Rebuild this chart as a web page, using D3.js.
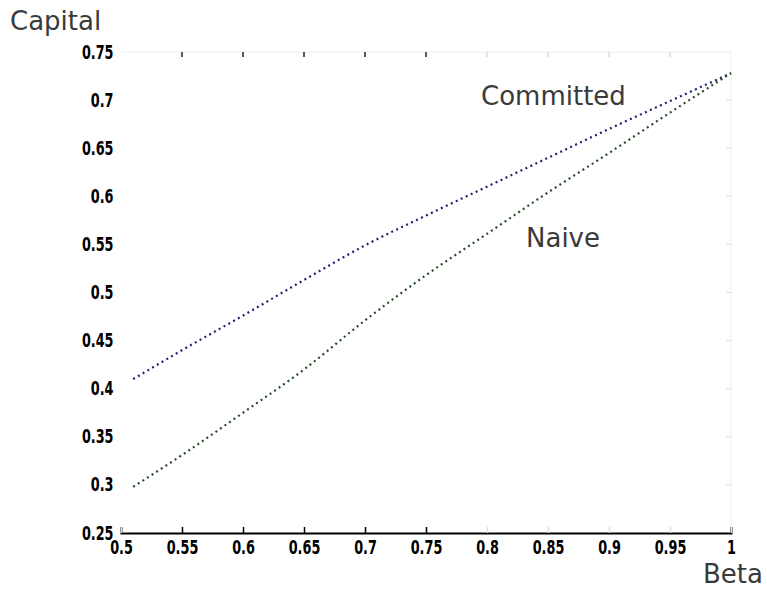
<!DOCTYPE html>
<html>
<head>
<meta charset="utf-8">
<script src="https://cdn.jsdelivr.net/npm/d3@7"></script>
<style>
  body { margin: 0; background: #fff; }
  .tick text { font-family: "DejaVu Sans Condensed", "DejaVu Sans", sans-serif; font-weight: bold; font-size: 19px; fill: #000; }
  .lbl { font-family: "DejaVu Sans", sans-serif; font-size: 26px; fill: #3a3a3a; }
</style>
</head>
<body>
<div id="chart"></div>
<script>
// Beta values and capital for both curves
const beta = [0.51, 0.55, 0.6, 0.65, 0.7, 0.75, 0.8, 0.85, 0.9, 0.95, 1.0];
const committed = [0.410, 0.440, 0.476, 0.513, 0.549, 0.580, 0.610, 0.640, 0.670, 0.699, 0.728];
const naive = [0.298, 0.331, 0.375, 0.420, 0.471, 0.518, 0.561, 0.604, 0.645, 0.687, 0.728];
const xTicks = [0.5, 0.55, 0.6, 0.65, 0.7, 0.75, 0.8, 0.85, 0.9, 0.95, 1];
const yTicks = [0.25, 0.3, 0.35, 0.4, 0.45, 0.5, 0.55, 0.6, 0.65, 0.7, 0.75];

const W = 767, H = 593;
const margin = {top: 52, right: 36, bottom: 60, left: 121};
const width = W - margin.left - margin.right;
const height = H - margin.top - margin.bottom;

const svg = d3.select("#chart").append("svg")
    .attr("width", W)
    .attr("height", H);

const g = svg.append("g")
    .attr("transform", `translate(${margin.left},${margin.top})`);

const x = d3.scaleLinear().domain([0.5, 1]).range([0, width]);
const y = d3.scaleLinear().domain([0.25, 0.75]).range([height, 0]);

// faint top and right frame
g.append("line")
    .attr("x1", 0).attr("x2", width).attr("y1", 0).attr("y2", 0)
    .attr("stroke", "#ececec");
g.append("line")
    .attr("x1", width).attr("x2", width).attr("y1", 0).attr("y2", height)
    .attr("stroke", "#efefef");

// top ticks
g.selectAll(".ttick")
  .data(xTicks.slice(1, -1))
  .enter().append("line")
    .attr("x1", d => x(d)).attr("x2", d => x(d))
    .attr("y1", 0).attr("y2", 5)
    .attr("stroke", (d, i) => i < 5 ? "#222" : "#ddd")
    .attr("stroke-width", 1.5);

// right ticks
g.selectAll(".rtick")
  .data(yTicks.slice(1, -1))
  .enter().append("line")
    .attr("x1", width - 5).attr("x2", width)
    .attr("y1", d => y(d)).attr("y2", d => y(d))
    .attr("stroke", "#ddd");

// bottom axis
const xAxis = g.append("g")
    .attr("transform", `translate(0,${height})`)
    .call(d3.axisBottom(x).tickValues(xTicks).tickSize(-6).tickPadding(8)
        .tickFormat(d => d3.format("")(d)));
xAxis.select(".domain").attr("stroke", "#000").attr("stroke-width", 2);
xAxis.selectAll(".tick line")
    .attr("stroke", (d, i) => (i > 0 && i < 6) ? "#000" : "#ddd")
    .attr("stroke-width", 1.5);
xAxis.selectAll(".tick text")
    .attr("transform", "scale(0.75,1)");

// left axis (labels only)
const yAxis = g.append("g")
    .call(d3.axisLeft(y).tickValues(yTicks).tickSize(0).tickPadding(10)
        .tickFormat(d => d3.format("")(d)));
yAxis.select(".domain").remove();
yAxis.selectAll(".tick text")
    .attr("transform", "scale(0.75,1)");

// curves
const line = d3.line()
    .x((d, i) => x(beta[i]))
    .y(d => y(d))
    .curve(d3.curveMonotoneX);

g.append("path")
    .datum(committed)
    .attr("fill", "none")
    .attr("stroke", "#22226e")
    .attr("stroke-width", 2.2)
    .attr("stroke-dasharray", "2,3.5")
    .attr("d", line);

g.append("path")
    .datum(naive)
    .attr("fill", "none")
    .attr("stroke", "#284d28")
    .attr("stroke-width", 2.2)
    .attr("stroke-dasharray", "2,3.5")
    .attr("d", line);

// labels
svg.append("text").attr("class", "lbl")
    .attr("x", 10).attr("y", 30).text("Capital");
svg.append("text").attr("class", "lbl")
    .attr("x", 763).attr("y", 583).attr("text-anchor", "end").text("Beta");
svg.append("text").attr("class", "lbl")
    .attr("x", 481).attr("y", 105).text("Committed");
svg.append("text").attr("class", "lbl")
    .attr("x", 526).attr("y", 247).text("Naive");
</script>
</body>
</html>
